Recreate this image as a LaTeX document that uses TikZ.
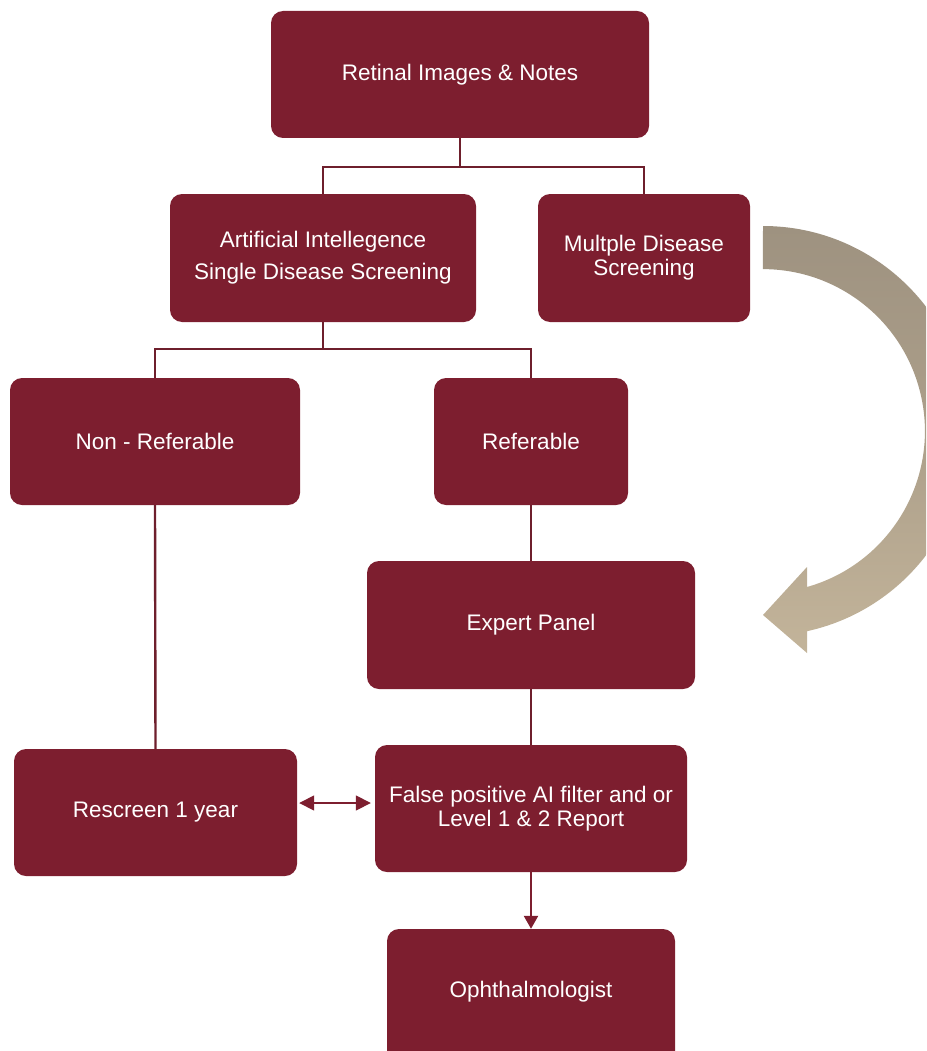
\documentclass[tikz,border=0pt]{standalone}
\usepackage{fontspec}
\setmainfont{Liberation Sans}
\usetikzlibrary{arrows.meta}
\definecolor{boxred}{HTML}{7D1E2F}
\definecolor{linered}{HTML}{6E1F2C}
\definecolor{arrtop}{HTML}{9E9280}
\definecolor{arrbot}{HTML}{C3B49A}
\begin{document}
\begin{tikzpicture}[x=1pt,y=1pt,
  box/.style={rectangle, rounded corners=12pt, fill=boxred, text=white, align=center,
    font=\fontsize{22.5}{24}\selectfont, inner sep=0pt},
  conn/.style={draw=linered, line width=2.4pt},
  arr/.style={draw=boxred, line width=2.4pt, -{Triangle[length=13pt,width=14pt]}},
  dbl/.style={draw=boxred, line width=1.6pt, {Triangle[length=15pt,width=15pt]}-{Triangle[length=15pt,width=15pt]}}]
\useasboundingbox (0,0) rectangle (926,-1051);
\clip (0,0) rectangle (926,-1051);
% boxes
\node[box, minimum width=378pt, minimum height=127pt] (ret) at (460,-74.5) {Retinal Images \& Notes};
\node[box, minimum width=306pt, minimum height=128pt] (ai) at (323,-258) {Artificial Intellegence\\[8pt]Single Disease Screening};
\node[box, minimum width=212pt, minimum height=128pt] (mul) at (644,-258) {Multple Disease\\Screening};
\node[box, minimum width=290pt, minimum height=127pt] (non) at (155,-441.5) {Non - Referable};
\node[box, minimum width=194pt, minimum height=127pt] (ref) at (531,-441.5) {Referable};
\node[box, minimum width=328pt, minimum height=128pt] (exp) at (531,-625) {Expert Panel};
\node[box, minimum width=283pt, minimum height=127pt] (res) at (155.5,-812.5) {Rescreen 1 year};
\node[box, minimum width=312pt, minimum height=127pt] (fp) at (531,-808.5) {False positive AI filter and or\\Level 1 \& 2 Report};
\node[box, minimum width=288pt, minimum height=140pt] (oph) at (531,-999) {};
\node[font=\fontsize{22.5}{24}\selectfont, text=white] (ophlabel) at (531,-992) {Ophthalmologist};
% connectors
\coordinate (j1) at (460,-167);
\coordinate (j2) at (323,-349);
\draw[conn] (ret.south) -- (j1) -| (ai.north);
\draw[conn] (j1) -| (mul.north);
\draw[conn] (ai.south) -- (j2) -| (non.north);
\draw[conn] (j2) -| (ref.north);
\draw[conn] (non.south) -- (res.north);
\draw[conn] (ref.south) -- (exp.north);
\draw[conn] (exp.south) -- (fp.north);
\draw[arr] (fp.south) -- (oph.north);
\draw[dbl] ([xshift=2pt,yshift=9.5pt]res.east) -- ([xshift=-4pt,yshift=5.5pt]fp.west);
% curved arrow
\shade[top color=arrtop, bottom color=arrbot, middle color=arrtop!60!arrbot]
  (763,-226) arc[start angle=90, end angle=-77.6, radius=205]
  -- (807,-653) -- (763,-615) -- (807,-567) -- (807,-587)
  arc[start angle=-74.2, end angle=90, radius=162] -- cycle;
\end{tikzpicture}
\end{document}
